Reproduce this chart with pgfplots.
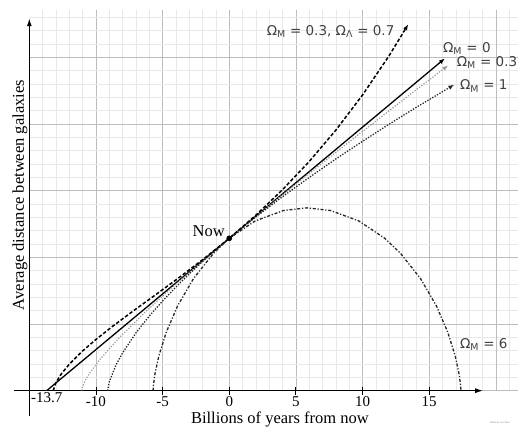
\documentclass[border=0pt]{standalone}
\usepackage{fontspec}
\setmainfont{Liberation Serif}
\newfontfamily\omfont{DejaVu Sans}
\usepackage{pgfplots}
\pgfplotsset{compat=1.18}
\usetikzlibrary{arrows.meta}

\tikzset{
  tip/.style={-{Latex[length=6pt,width=4.5pt]}},
  omlabel/.style={font=\omfont\fontsize{13.5}{15}\selectfont, text=black!75, inner sep=0pt},
}

\begin{document}
\begin{tikzpicture}
\begin{axis}[
  x=13.33pt, y=13.33pt,
  xmin=-15, xmax=21.66,
  ymin=0, ymax=28.55,
  axis line style={draw=none},
  clip=false,
  xtick pos=bottom,
  xtick={-10,-5,0,5,10,15},
  xticklabels={-10,-5,0,5,10,15},
  extra x ticks={-13.7},
  extra x tick labels={-13.7},
  extra x tick style={grid=none, major tick length=0pt},
  ytick={0,5,...,25},
  yticklabels={},
  minor xtick={-14,-13,...,21},
  minor ytick={1,2,...,28},
  grid=both,
  major grid style={black!26, line width=0.7pt},
  minor grid style={black!9, line width=0.7pt},
  x tick style={black, line width=0.9pt},
  y tick style={draw=none},
  minor tick length=0pt,
  major tick length=8pt,
  tick align=center,
  xticklabel style={font=\fontsize{15}{16}\selectfont, anchor=base, yshift=-12pt, inner ysep=0pt},
]

% grid line at x=20 (no tick there)
\draw[black!26, line width=0.7pt] (axis cs:20,0) -- (axis cs:20,28.55);

% axes
\draw[line width=1.4pt, -{Latex[length=8pt,width=5pt]}] (axis cs:-16.15,0) -- (axis cs:19.05,0);
\draw[line width=1.4pt, -{Latex[length=8pt,width=5pt]}] (axis cs:-15,-1.9) -- (axis cs:-15,27.95);

% Omega_M = 0 (empty universe)
\addplot[black, line width=1.3pt, tip] coordinates {
(-13.7,0) (16.18,24.93)
};

% Omega_M = 0.3 (open)
\addplot[black!40, line width=1.2pt, dash pattern=on 1.2pt off 1.6pt, tip] coordinates {
(-11.080,0) (-11.075,0.049) (-11.064,0.111) (-11.006,0.313) (-10.771,0.827)
(-10.465,1.330) (-9.682,2.378) (-8.359,3.864) (-6.279,5.922) (-4.336,7.701)
(-1.828,9.888) (0,11.43) (3.288,14.130) (7.840,17.764) (13.545,22.209) (16.43,24.41)
};

% Omega_M = 1 (flat, matter only)
\addplot[black!85, line width=1.3pt, dash pattern=on 1.3pt off 1.5pt, tip] coordinates {
(-9.133,0) (-9.0,0.68) (-8.5,1.93) (-8,2.84) (-7,4.34) (-6,5.60) (-5,6.73)
(-4,7.78) (-3,8.76) (-2,9.69) (-1,10.58) (0,11.43) (2,13.04) (4,14.56)
(6,16.00) (8,17.39) (10,18.71) (12,20.00) (14,21.24) (16.88,22.96)
};

% Omega_M = 0.3, Omega_Lambda = 0.7
\addplot[black, line width=1.5pt, dash pattern=on 3.5pt off 2pt, tip] coordinates {
(-13.209,0) (-13.009,0.599) (-12.609,1.246) (-12.009,1.980) (-11.009,2.976)
(-10.009,3.838) (-8.709,4.864) (-7.209,5.979) (-5.709,7.065) (-4.009,8.305)
(-2.009,9.816) (0,11.43) (1.991,13.163) (3.991,15.074) (5.991,17.187)
(7.991,19.542) (9.991,22.174) (11.991,25.130) (13.43,27.49)
};

% Omega_M = 6 (closed)
\addplot[black!85, line width=1.3pt, dash pattern=on 3pt off 1.8pt on 1.2pt off 1.8pt] coordinates {
(-5.717,0) (-5.700,0.306) (-5.587,1.198) (-5.288,2.595) (-4.732,4.373)
(-3.870,6.373) (-2.680,8.416) (-1.170,10.320) (0,11.43) (1.946,12.735)
(4.064,13.517) (5.832,13.716) (7.600,13.517) (9.718,12.735) (11.664,11.43)
(12.834,10.320) (14.344,8.416) (15.534,6.373) (16.396,4.373) (16.952,2.595)
(17.251,1.198) (17.364,0.306) (17.381,0)
};

% now
\addplot[only marks, mark=*, mark size=2.6pt, black] coordinates {(0,11.43)};

\node[anchor=base east, font=\fontsize{16.5}{18}\selectfont, inner sep=0pt] at (axis cs:-0.32,11.53) {Now};

\node[omlabel, anchor=base west] at (axis cs:2.8,26.68) {Ω\textsubscript{M} = 0.3, Ω\textsubscript{Λ} = 0.7};
\node[omlabel, anchor=base west] at (axis cs:16.03,25.39) {Ω\textsubscript{M} = 0};
\node[omlabel, anchor=base west] at (axis cs:17.06,24.3) {Ω\textsubscript{M} = 0.3};
\node[omlabel, anchor=base west] at (axis cs:17.3,22.56) {Ω\textsubscript{M} = 1};
\node[omlabel, anchor=base west] at (axis cs:17.3,3.18) {Ω\textsubscript{M} = 6};

\node[anchor=base, font=\fontsize{16.5}{18}\selectfont, inner sep=0pt] at (axis cs:3.8,-2.45) {Billions of years from now};
\node[anchor=base, rotate=90, font=\fontsize{16.5}{18}\selectfont, inner sep=0pt] at (axis cs:-15.4,14.68) {Average distance between galaxies};
\node[font=\fontsize{2.5}{3}\selectfont, text=black!50] at (axis cs:20.3,-2.45) {Edited by Luo Zhou};

\coordinate (bbl) at (axis cs:-17.2,-2.65);
\coordinate (btr) at (axis cs:21.66,29.31);
\end{axis}
\pgfresetboundingbox
\path[use as bounding box] (bbl) rectangle (btr);
\end{tikzpicture}
\end{document}
